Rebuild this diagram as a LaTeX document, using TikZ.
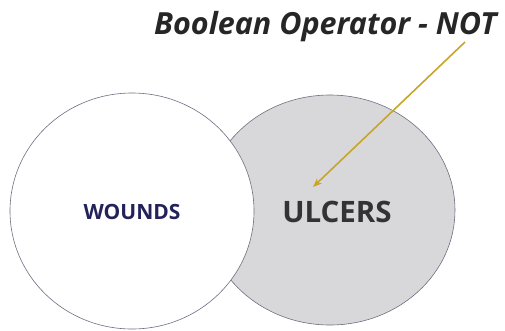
\documentclass[tikz,border=0pt]{standalone}
\usepackage{fontspec}
\setmainfont{Open Sans}
\usetikzlibrary{shapes.geometric,arrows.meta}
\definecolor{setline}{RGB}{110,110,130}
\definecolor{notgray}{RGB}{216,216,218}
\definecolor{arrowgold}{RGB}{200,165,40}
\definecolor{woundblue}{RGB}{35,35,90}

\begin{document}
\begin{tikzpicture}[x=1pt,y=-1pt]
  % Venn diagram: ULCERS NOT WOUNDS
  \tikzset{setshape/.style={ellipse,draw=setline,line width=0.6pt,inner sep=0pt}}
  \useasboundingbox (0,0) rectangle (505,330);
  % the two sets
  \node[setshape,fill=notgray,minimum width=250pt,minimum height=230pt] (ulcerset) at (330,210) {};
  \node[setshape,fill=white,minimum width=244pt,minimum height=236pt] (woundset) at (132,211) {};
  % set labels
  \node[font=\fontsize{21}{21}\selectfont\bfseries,text=woundblue] (wounds) at (132,212) {WOUNDS};
  \node[font=\fontsize{29.5}{30}\selectfont\bfseries,text=black!80] (ulcers) at (337,212) {ULCERS};
  % title and pointer
  \node[font=\fontsize{30.5}{30}\selectfont\bfseries\itshape,text=black!85,anchor=base east] (title) at (500,34) {Boolean Operator - NOT};
  \coordinate (tail) at (465,42);
  \coordinate (tip) at (313,187);
  \draw[arrowgold,line width=1.6pt,-{Stealth[length=9pt,width=7pt]}] (tail) -- (tip);
\end{tikzpicture}
\end{document}
